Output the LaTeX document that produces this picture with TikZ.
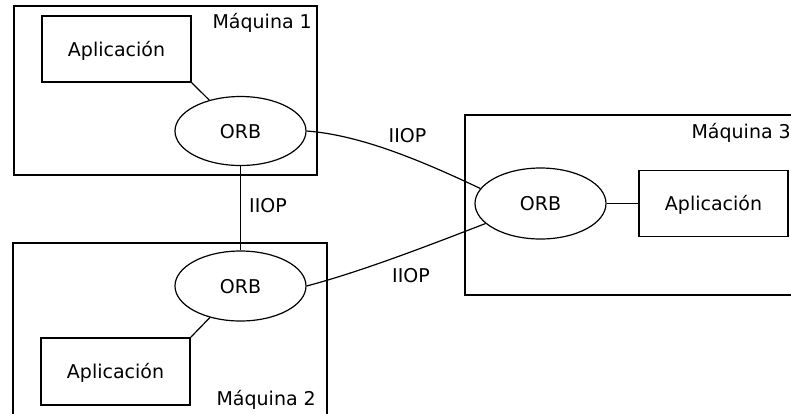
\documentclass[tikz,border=0pt]{standalone}
\usepackage{fontspec}
\setmainfont{DejaVu Sans}
\usetikzlibrary{shapes.geometric}
\tikzset{
  machbox/.style={draw, line width=1.6pt, minimum width=#1, inner sep=0pt},
  appbox/.style={draw, line width=1.5pt, minimum width=149pt, minimum height=66pt, inner sep=0pt, text height=14pt, text depth=0pt},
  orbnode/.style={draw, ellipse, line width=1.2pt, minimum width=131pt, minimum height=70pt, inner sep=0pt, text height=14pt, text depth=0pt},
  conn/.style={line width=1.2pt},
  lbl/.style={inner sep=0pt, text height=14pt, text depth=0pt},
  machlbl/.style={inner sep=0pt, anchor=base east}
}
\begin{document}
\begin{tikzpicture}[x=1pt, y=-1pt, font=\fontsize{19}{22}\selectfont]
\useasboundingbox (0,0) rectangle (791,413);
\fill[white] (0,0) rectangle (791,413);
% machines
\node[machbox=303pt, minimum height=169pt] (mach1) at (165.5,90.5) {};
\node[machbox=314pt, minimum height=187pt] (mach2) at (170,336.5) {};
\node[machbox=335pt, minimum height=180pt] (mach3) at (632.5,205) {};
\node[machlbl] (m1lbl) at (312,28) {Máquina 1};
\node[machlbl] (m2lbl) at (316,405) {Máquina 2};
\node[machlbl] (m3lbl) at (791,138) {Máquina 3};
% applications
\node[appbox] (app1) at (116.5,49) {Aplicación};
\node[appbox, minimum height=67pt] (app2) at (115.5,371.5) {Aplicación};
\node[appbox] (app3) at (713.5,203.5) {Aplicación};
% ORBs
\node[orbnode, minimum height=69pt] (orb1) at (240.5,131) {ORB};
\node[orbnode] (orb2) at (240.5,286) {ORB};
\node[orbnode, minimum height=71pt] (orb3) at (540.5,203.5) {ORB};
% connectors
\draw[conn] (app1.south east) -- (orb1);
\draw[conn] (app2.north east) -- (orb2);
\draw[conn] (orb3) -- (app3);
\draw[conn] (orb1.south) -- (orb2.north);
\draw[conn] (orb1.east) .. controls (360,135) and (420,160) .. (orb3.166);
\draw[conn] (orb2.east) .. controls (360,272) and (430,245) .. (orb3.200);
% labels
\node[lbl] (l12) at (268,205.5) {IIOP};
\node[lbl] (l13) at (407.5,135.5) {IIOP};
\node[lbl] (l23) at (411,275) {IIOP};
\end{tikzpicture}
\end{document}
